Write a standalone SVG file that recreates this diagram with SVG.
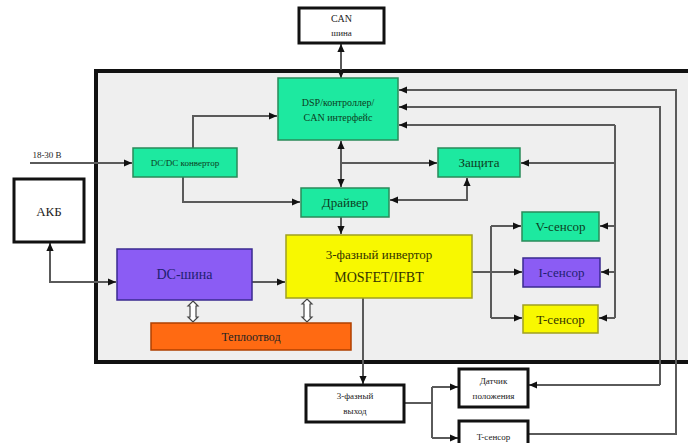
<svg xmlns="http://www.w3.org/2000/svg" width="688" height="443" viewBox="0 0 688 443" font-family="'Liberation Serif','Times New Roman',serif">
<style>
text{font-family:"Liberation Serif","Times New Roman",serif;text-anchor:middle;}
.wbox{fill:#ffffff;stroke:#111;stroke-width:3;}
.green{fill:#1de9a0;stroke:#2a8a5a;stroke-width:1.5;}
.purple{fill:#8b5cf4;stroke:#3a2a90;stroke-width:1.5;}
.yellow{fill:#f8f800;stroke:#a0a020;stroke-width:1.5;}
.orange{fill:#ff6a12;stroke:#b04000;stroke-width:1.5;}
.tg{fill:#0c3d22;}
.tp{fill:#1f1f70;}
.ty{fill:#333300;}
.tk{fill:#222;}
.c{fill:none;stroke:#5a5a5a;stroke-width:2;}
.ca{fill:none;stroke:#5a5a5a;stroke-width:2;marker-end:url(#ah);}
.cb{fill:none;stroke:#5a5a5a;stroke-width:2;marker-start:url(#ah);marker-end:url(#ah);}
.hollow{fill:#fff;stroke:#444;stroke-width:1.2;}
</style>
<defs>
<marker id="ah" viewBox="0 0 10 10" refX="10" refY="5" markerWidth="8" markerHeight="8" markerUnits="userSpaceOnUse" orient="auto-start-reverse">
<path d="M0,0.5 L10,5 L0,9.5 z" fill="#111"/>
</marker>
</defs>
<rect width="688" height="443" fill="#ffffff"/>
<g id="frame">
<rect x="96" y="71" width="600" height="291" fill="#efefef" stroke="#111" stroke-width="4"/>
</g>
<g id="connectors">
<path class="cb" d="M341,78 V44"/>
<path class="cb" d="M341,141 V187"/>
<path class="ca" d="M341,163 H437"/>
<path class="ca" d="M341,217 V234"/>
<path class="cb" d="M390,200 H467 V178"/>
<path class="ca" d="M30,163 H132"/>
<path class="ca" d="M193,148 V116 H277"/>
<path class="ca" d="M183,177 V202 H300"/>
<path class="cb" d="M50,243 V282 H116"/>
<path class="ca" d="M252,282 H285"/>
<path class="ca" d="M472,272 H522"/>
<path class="c" d="M491,226 V318"/>
<path class="ca" d="M491,226 H521"/>
<path class="ca" d="M491,318 H522"/>
<path class="c" d="M615,125 V318"/>
<path class="ca" d="M615,125 H399"/>
<path class="ca" d="M615,163 H521"/>
<path class="ca" d="M615,226 H600"/>
<path class="ca" d="M615,272 H601"/>
<path class="ca" d="M615,318 H599"/>
<path class="ca" d="M660,385 V107 H399"/>
<path class="ca" d="M660,385 H529"/>
<path class="ca" d="M529,434 H676 V90 H399"/>
<path class="ca" d="M363,298 V384"/>
<path class="c" d="M404,403 H432"/>
<path class="c" d="M432,387 V438"/>
<path class="ca" d="M432,387 H458"/>
<path class="ca" d="M432,438 H458"/>
<path class="hollow" d="M193,301 L198,306 L196,306 L196,317 L198,317 L193,322 L188,317 L190,317 L190,306 L188,306 Z"/>
<path class="hollow" d="M307,299 L312,304 L310,304 L310,317 L312,317 L307,322 L302,317 L304,317 L304,304 L302,304 Z"/>
</g>
<g id="can">
<rect class="wbox" x="299" y="8" width="85" height="35"/>
<text class="tk" x="341.5" y="22" font-size="10">CAN</text>
<text class="tk" x="341.5" y="36" font-size="9">шина</text>
</g>
<g id="dsp">
<rect class="green" x="278" y="78" width="120" height="62"/>
<text class="tg" x="338" y="106" font-size="10">DSP/контроллер/</text>
<text class="tg" x="338" y="121" font-size="10">CAN интерфейс</text>
</g>
<g id="dcdc">
<rect class="green" x="133" y="148" width="104" height="29"/>
<text class="tg" x="185" y="166" font-size="9">DC/DC конвертор</text>
</g>
<g id="driver">
<rect class="green" x="301" y="188" width="88" height="29"/>
<text class="tg" x="345" y="207" font-size="13">Драйвер</text>
</g>
<g id="zashita">
<rect class="green" x="438" y="148" width="82" height="29"/>
<text class="tg" x="479" y="167" font-size="13">Защита</text>
</g>
<g id="akb">
<rect class="wbox" x="14" y="179" width="70" height="63"/>
<text class="tk" x="49" y="216" font-size="13">АКБ</text>
</g>
<g id="input-label">
<text class="tk" x="47" y="158" font-size="9">18-30 В</text>
</g>
<g id="dcbus">
<rect class="purple" x="117" y="249" width="135" height="51"/>
<text class="tp" x="184.5" y="279" font-size="14">DC-шина</text>
</g>
<g id="inverter">
<rect class="yellow" x="286" y="235" width="186" height="63"/>
<text class="ty" x="379" y="259" font-size="13">3-фазный инвертор</text>
<text class="ty" x="379" y="282" font-size="14">MOSFET/IFBT</text>
</g>
<g id="heatsink">
<rect class="orange" x="151" y="323" width="200" height="27"/>
<text class="tk" x="251" y="341" font-size="12">Теплоотвод</text>
</g>
<g id="vsensor">
<rect class="green" x="522" y="212" width="77" height="29"/>
<text class="tg" x="560.5" y="231" font-size="13">V-сенсор</text>
</g>
<g id="isensor">
<rect class="purple" x="523" y="258" width="77" height="29"/>
<text class="tp" x="561.5" y="277" font-size="13">I-сенсор</text>
</g>
<g id="tsensor">
<rect class="yellow" x="523" y="305" width="75" height="28"/>
<text class="ty" x="560.5" y="324" font-size="13">T-сенсор</text>
</g>
<g id="output">
<rect class="wbox" x="306" y="385" width="98" height="37"/>
<text class="tk" x="355" y="399" font-size="9">3-фазный</text>
<text class="tk" x="355" y="414" font-size="9">выход</text>
</g>
<g id="position-sensor">
<rect class="wbox" x="459" y="369" width="69" height="38"/>
<text class="tk" x="493.5" y="384" font-size="9">Датчик</text>
<text class="tk" x="493.5" y="399" font-size="9">положения</text>
</g>
<g id="t-sensor-ext">
<rect class="wbox" x="459" y="421" width="69" height="30"/>
<text class="tk" x="493.5" y="440" font-size="9">T-сенсор</text>
</g>
</svg>
